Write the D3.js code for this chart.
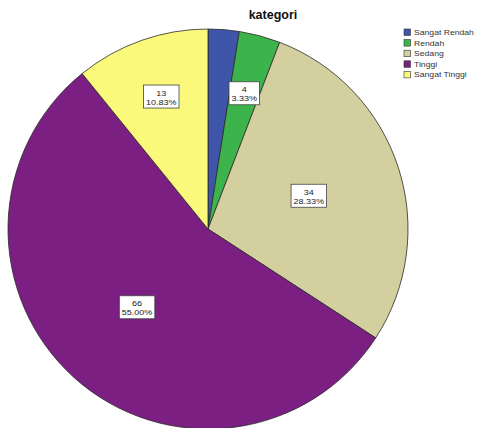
<!DOCTYPE html>
<html>
<head>
<meta charset="utf-8">
<script src="https://cdn.jsdelivr.net/npm/d3@7/dist/d3.min.js"></script>
<style>
  html, body { margin: 0; padding: 0; background: #ffffff; }
  svg { display: block; font-family: "Liberation Sans", Arial, sans-serif; }
</style>
</head>
<body>
<svg id="chart" width="481" height="428"></svg>
<script>
// Category names, counts and fill colours of the pie
const categories = ["Sangat Rendah", "Rendah", "Sedang", "Tinggi", "Sangat Tinggi"];
const counts = [3, 4, 34, 66, 13];
const percents = ["2.50%", "3.33%", "28.33%", "55.00%", "10.83%"];
const showLabel = [false, true, true, true, true];
const colors = ["#3e55aa", "#3db44b", "#d4cf9f", "#7b1f83", "#fbf97c"];
const title = "kategori";

const svg = d3.select("#chart");
const cx = 208, cy = 229, R = 200;
const stretch = 1.15; // text is drawn slightly wide

const data = categories.map((c, i) => ({
  name: c, count: counts[i], pct: percents[i], show: showLabel[i], color: colors[i]
}));

const pie = d3.pie().value(d => d.count).sort(null);
const arcs = pie(data);
const arc = d3.arc().innerRadius(0).outerRadius(R);

const g = svg.append("g").attr("transform", `translate(${cx},${cy})`);

g.selectAll("path.slice")
  .data(arcs)
  .join("path")
  .attr("class", "slice")
  .attr("d", arc)
  .attr("fill", d => d.data.color)
  .attr("stroke", "#2a2a2a")
  .attr("stroke-width", 0.8);

// Value labels: narrow slices push their label further out
const labels = g.selectAll("g.lbl")
  .data(arcs.filter(d => d.data.show))
  .join("g")
  .attr("class", "lbl")
  .attr("transform", d => {
    const span = d.endAngle - d.startAngle;
    const r = span < Math.PI / 3 ? R * 0.70 : R * 0.53;
    const a = (d.startAngle + d.endAngle) / 2;
    return `translate(${r * Math.sin(a)},${-r * Math.cos(a)})`;
  });

labels.each(function(d) {
  const sel = d3.select(this);
  const tg = sel.append("g").attr("transform", `scale(1.2,1)`);
  const t1 = tg.append("text").attr("text-anchor", "middle").attr("y", -1.5)
    .attr("font-size", 7.5).attr("fill", "#1a1a1a").text(d.data.count);
  const t2 = tg.append("text").attr("text-anchor", "middle").attr("y", 7.5)
    .attr("font-size", 7.5).attr("fill", "#1a1a1a").text(d.data.pct);
  const w = Math.max(t1.node().getComputedTextLength(), t2.node().getComputedTextLength()) * 1.2 + 5;
  sel.insert("rect", "g")
    .attr("x", -w / 2).attr("y", -12)
    .attr("width", w).attr("height", 23)
    .attr("fill", "#ffffff")
    .attr("stroke", "#444")
    .attr("stroke-width", 0.8);
});

// Title
svg.append("text")
  .attr("x", 273).attr("y", 19)
  .attr("text-anchor", "middle")
  .attr("font-size", 12.5)
  .attr("font-weight", "bold")
  .attr("fill", "#111")
  .text(title);

// Legend
const legendY = d3.scaleBand().domain(categories).range([29, 82]).padding(0);
const legend = svg.append("g").selectAll("g")
  .data(data)
  .join("g")
  .attr("transform", d => `translate(404,${legendY(d.name)})`);

legend.append("rect")
  .attr("width", 6.5).attr("height", 6.5)
  .attr("fill", d => d.color)
  .attr("stroke", "#333").attr("stroke-width", 0.6);

legend.append("text")
  .attr("transform", `translate(10,6) scale(${stretch},1)`)
  .attr("font-size", 7.5)
  .attr("fill", "#333")
  .text(d => d.name);
</script>
</body>
</html>
